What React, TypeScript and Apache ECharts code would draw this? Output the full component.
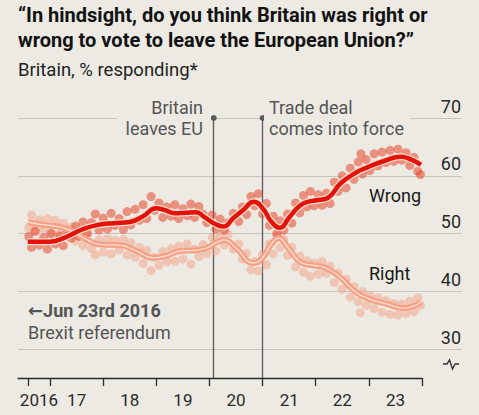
import React, { useEffect, useRef } from "react";
import * as echarts from "echarts";

const titleLines = [
  "“In hindsight, do you think Britain was right or",
  "wrong to vote to leave the European Union?”",
];
const subtitle = "Britain, % responding*";

const yTickValues = [30, 40, 50, 60, 70];
const xTickYears = [2016.585, 2017, 2018, 2019, 2020, 2021, 2022, 2023, 2024];
const xLabelYears = [2016.79, 2017.5, 2018.5, 2019.5, 2020.5, 2021.5, 2022.5, 2023.5];

const eventDates = [2020.083, 2021.0];
const eventLabels = [
  ["Britain", "leaves EU"],
  ["Trade deal", "comes into force"],
];

const wrongTrend: [number, number][] = [
  [2016.58, 48.6], [2016.8, 48.6], [2017.0, 48.6], [2017.3, 49.4], [2017.6, 50.7],
  [2017.9, 51.5], [2018.2, 51.8], [2018.5, 52.0], [2018.75, 53.0], [2019.0, 54.4],
  [2019.15, 54.1], [2019.35, 53.5], [2019.55, 53.6], [2019.75, 53.7], [2019.9, 52.9],
  [2020.08, 51.8], [2020.26, 51.2], [2020.45, 52.7], [2020.65, 54.2], [2020.83, 55.5],
  [2021.0, 54.4], [2021.17, 52.0], [2021.33, 51.0], [2021.5, 52.8], [2021.7, 54.8],
  [2021.85, 55.5], [2022.05, 55.8], [2022.23, 56.2], [2022.47, 58.7], [2022.75, 60.5],
  [2022.98, 61.5], [2023.3, 62.6], [2023.6, 63.3], [2023.8, 62.8], [2023.98, 61.9],
];

const rightTrend: [number, number][] = [
  [2016.58, 52.0], [2016.8, 51.6], [2017.0, 51.4], [2017.25, 51.0], [2017.45, 50.2],
  [2017.7, 48.9], [2017.95, 48.1], [2018.3, 48.0], [2018.6, 47.1], [2018.95, 45.8],
  [2019.2, 46.2], [2019.45, 47.0], [2019.7, 47.1], [2019.95, 47.5], [2020.1, 48.3],
  [2020.28, 48.9], [2020.5, 47.5], [2020.83, 44.9], [2021.0, 45.8], [2021.15, 48.0],
  [2021.3, 49.2], [2021.5, 47.3], [2021.72, 45.0], [2021.95, 44.5], [2022.15, 44.2],
  [2022.45, 42.5], [2022.75, 39.9], [2023.0, 38.7], [2023.35, 37.8], [2023.65, 37.1],
  [2023.85, 37.5], [2023.98, 38.2],
];

const wrongPolls: [number, number][] = [
  [2016.60, 49.5], [2016.65, 47.6], [2016.72, 50.4], [2016.80, 48.0], [2016.88, 49.3],
  [2016.95, 47.3], [2017.02, 50.0], [2017.10, 48.2], [2017.18, 49.6], [2017.25, 47.9],
  [2017.32, 50.6], [2017.40, 49.2], [2017.48, 51.3], [2017.55, 49.5], [2017.62, 52.0],
  [2017.70, 50.1], [2017.78, 51.9], [2017.85, 53.4], [2017.92, 50.6], [2018.00, 52.7],
  [2018.08, 50.8], [2018.15, 53.5], [2018.22, 51.4], [2018.30, 52.6], [2018.38, 50.7],
  [2018.45, 53.8], [2018.52, 51.5], [2018.60, 54.2], [2018.68, 52.3], [2018.75, 55.0],
  [2018.82, 52.6], [2018.90, 56.4], [2018.97, 54.0], [2019.05, 55.3], [2019.12, 52.8],
  [2019.20, 54.6], [2019.28, 53.0], [2019.35, 55.0], [2019.42, 52.6], [2019.50, 54.3],
  [2019.58, 53.1], [2019.65, 55.1], [2019.72, 52.8], [2019.80, 54.7], [2019.88, 53.4],
  [2019.95, 51.9], [2020.05, 53.2], [2020.12, 50.8], [2020.20, 52.5], [2020.28, 50.6],
  [2020.35, 51.9], [2020.45, 53.5], [2020.55, 52.1], [2020.62, 54.6], [2020.70, 53.3],
  [2020.78, 56.4], [2020.85, 54.8], [2020.92, 56.9], [2021.00, 53.4], [2021.07, 55.2],
  [2021.13, 51.4], [2021.20, 53.0], [2021.27, 50.0], [2021.33, 52.2], [2021.40, 50.6],
  [2021.47, 53.4], [2021.55, 51.8], [2021.62, 55.3], [2021.70, 53.6], [2021.77, 56.6],
  [2021.83, 54.6], [2021.90, 57.3], [2021.97, 54.8], [2022.05, 56.7], [2022.12, 54.9],
  [2022.20, 57.0], [2022.27, 55.2], [2022.35, 58.9], [2022.42, 57.3], [2022.50, 60.0],
  [2022.57, 57.9], [2022.65, 61.3], [2022.72, 59.4], [2022.80, 62.4], [2022.85, 63.8],
  [2022.88, 60.3], [2022.95, 62.8], [2023.02, 60.9], [2023.10, 63.8], [2023.17, 61.7],
  [2023.25, 64.1], [2023.32, 62.3], [2023.40, 64.4], [2023.47, 62.5], [2023.55, 64.6],
  [2023.62, 62.7], [2023.70, 64.0], [2023.77, 61.8], [2023.85, 63.2], [2023.92, 60.8],
  [2023.97, 60.2],
];

const rightPolls: [number, number][] = [
  [2016.60, 51.0], [2016.65, 53.2], [2016.72, 50.5], [2016.80, 52.4], [2016.88, 50.8],
  [2016.95, 52.6], [2017.02, 50.2], [2017.10, 52.3], [2017.18, 50.0], [2017.25, 51.8],
  [2017.32, 49.6], [2017.40, 51.1], [2017.48, 48.7], [2017.55, 50.6], [2017.62, 47.9],
  [2017.70, 49.8], [2017.78, 47.4], [2017.85, 46.3], [2017.92, 48.9], [2018.00, 46.8],
  [2018.08, 49.1], [2018.15, 46.5], [2018.22, 48.8], [2018.30, 47.2], [2018.38, 49.0],
  [2018.45, 46.3], [2018.52, 48.4], [2018.60, 45.9], [2018.68, 47.6], [2018.75, 44.8],
  [2018.82, 47.1], [2018.90, 43.6], [2018.97, 45.9], [2019.05, 44.5], [2019.12, 46.9],
  [2019.20, 45.1], [2019.28, 47.4], [2019.35, 45.2], [2019.42, 47.8], [2019.50, 45.6],
  [2019.58, 48.2], [2019.65, 44.7], [2019.72, 47.3], [2019.80, 46.0], [2019.88, 48.1],
  [2019.95, 46.5], [2020.05, 49.3], [2020.12, 47.0], [2020.20, 49.6], [2020.28, 48.0],
  [2020.35, 49.9], [2020.45, 47.3], [2020.55, 48.2], [2020.62, 45.6], [2020.70, 46.6],
  [2020.78, 43.7], [2020.85, 45.2], [2020.92, 43.5], [2021.00, 46.4], [2021.07, 44.6],
  [2021.13, 48.2], [2021.20, 46.5], [2021.27, 49.8], [2021.33, 47.6], [2021.40, 49.0],
  [2021.47, 46.2], [2021.55, 47.6], [2021.62, 44.2], [2021.70, 46.1], [2021.77, 43.3],
  [2021.83, 45.3], [2021.90, 42.6], [2021.97, 44.9], [2022.05, 43.0], [2022.12, 45.2],
  [2022.20, 43.1], [2022.27, 44.4], [2022.35, 41.5], [2022.42, 43.2], [2022.50, 40.4],
  [2022.57, 42.1], [2022.65, 39.0], [2022.72, 40.8], [2022.80, 38.2], [2022.84, 36.3],
  [2022.88, 40.0], [2022.95, 37.6], [2023.02, 39.3], [2023.10, 37.0], [2023.17, 38.9],
  [2023.25, 36.4], [2023.32, 38.4], [2023.40, 36.0], [2023.47, 37.9], [2023.55, 35.9],
  [2023.62, 37.8], [2023.70, 36.2], [2023.77, 38.3], [2023.85, 36.5], [2023.92, 38.9],
  [2023.97, 37.6],
];

const BG = "#eceae3";
const FONT = "Roboto, 'DejaVu Sans', sans-serif";

export default function App() {
  const ref = useRef<HTMLDivElement>(null);

  useEffect(() => {
    if (!ref.current) return;
    const chart = echarts.init(ref.current, undefined, { renderer: "svg" });

    const txt = (text: string, x: number, y: number, opts: any = {}) => ({
      type: "text",
      x,
      y,
      z: 100,
      silent: true,
      style: {
        text,
        fill: opts.fill || "#555555",
        fontSize: opts.fontSize || 18,
        fontWeight: opts.fontWeight || "normal",
        fontFamily: FONT,
        align: opts.align || "left",
        verticalAlign: "middle",
      },
    });

    chart.setOption({
      animation: false,
      backgroundColor: BG,
      textStyle: { fontFamily: FONT },
      grid: [
        { left: 18, right: 57, top: 118, bottom: 37 },
        { left: 18, right: 17, top: 118, bottom: 66 },
      ],
      xAxis: [
        {
          type: "value",
          gridIndex: 0,
          min: 2016.396,
          max: 2024,
          axisLine: { show: true, lineStyle: { color: "#2b2b2b", width: 1.3 } },
          axisTick: {
            show: true,
            customValues: xTickYears,
            length: 8,
            lineStyle: { color: "#2b2b2b", width: 1.3 },
          },
          axisLabel: {
            customValues: xLabelYears,
            margin: 13,
            fontSize: 17,
            color: "#2a2a2a",
            fontFamily: FONT,
            formatter: (v: number) => (v < 2017 ? "2016" : String(Math.floor(v) - 2000)),
          },
          splitLine: { show: false },
        },
        { type: "value", gridIndex: 1, min: 0, max: 1, show: false },
      ],
      yAxis: [
        { type: "value", gridIndex: 0, min: 25, max: 70, show: false },
        {
          type: "value",
          gridIndex: 1,
          min: 30,
          max: 70,
          interval: 10,
          position: "right",
          axisLine: { show: false },
          axisTick: { show: false },
          splitLine: { show: true, lineStyle: { color: "#c6c5be", width: 1 } },
          axisLabel: {
            inside: true,
            margin: 1,
            fontSize: 18,
            color: "#2a2a2a",
            fontFamily: FONT,
            verticalAlign: "bottom",
            lineHeight: 24,
          },
        },
      ],
      series: [
        {
          name: "Right polls",
          type: "scatter",
          xAxisIndex: 0,
          yAxisIndex: 0,
          data: rightPolls,
          symbolSize: 9,
          itemStyle: { color: "#f6a68e", opacity: 0.55 },
          silent: true,
          z: 2,
          markLine: {
            silent: true,
            z: 1,
            symbol: ["none", "circle"],
            symbolSize: 6,
            label: { show: false },
            lineStyle: { color: "#5a5a5a", width: 1.3, type: "solid" },
            data: eventDates.map((d) => ({ xAxis: d })),
          },
        },
        {
          name: "Wrong polls",
          type: "scatter",
          xAxisIndex: 0,
          yAxisIndex: 0,
          data: wrongPolls,
          symbolSize: 9,
          itemStyle: { color: "#e8452c", opacity: 0.55 },
          silent: true,
          z: 2,
        },
        {
          name: "Right base",
          type: "line",
          data: rightTrend,
          smooth: true,
          showSymbol: false,
          silent: true,
          lineStyle: { color: "#f4a188", width: 6 },
          z: 3,
        },
        {
          name: "Right",
          type: "line",
          data: rightTrend,
          smooth: true,
          showSymbol: false,
          silent: true,
          lineStyle: { color: "#fde0cf", width: 1.3 },
          z: 3,
        },
        {
          name: "Wrong halo",
          type: "line",
          data: wrongTrend,
          smooth: true,
          showSymbol: false,
          silent: true,
          lineStyle: { color: "#f8dcc9", width: 7 },
          z: 4,
        },
        {
          name: "Wrong",
          type: "line",
          data: wrongTrend,
          smooth: true,
          showSymbol: false,
          silent: true,
          lineStyle: { color: "#e3120b", width: 4.5 },
          z: 4,
        },
      ],
      graphic: [
        { type: "rect", z: 50, silent: true, shape: { x: 117, y: 113, width: 94, height: 10 }, style: { fill: BG } },
        { type: "rect", z: 50, silent: true, shape: { x: 264, y: 113, width: 146, height: 10 }, style: { fill: BG } },
        txt(titleLines[0], 18, 15, { fill: "#121212", fontSize: 20, fontWeight: "bold" }),
        txt(titleLines[1], 18, 40, { fill: "#121212", fontSize: 20, fontWeight: "bold" }),
        txt(subtitle, 18, 70, { fill: "#222222", fontSize: 18.5 }),
        txt(eventLabels[0][0], 203, 107, { align: "right" }),
        txt(eventLabels[0][1], 203, 128, { align: "right" }),
        txt(eventLabels[1][0], 269, 107),
        txt(eventLabels[1][1], 269, 128),
        txt("Wrong", 369, 195, { fill: "#1a1a1a", fontSize: 18 }),
        txt("Right", 369, 273, { fill: "#1a1a1a", fontSize: 18 }),
        txt("←Jun 23rd 2016", 28, 310, { fontWeight: "bold", fontSize: 18 }),
        txt("Brexit referendum", 28, 332, { fontSize: 18 }),
        {
          type: "polyline",
          z: 100,
          silent: true,
          shape: { points: [[443, 364], [447, 364], [449.5, 360], [452.5, 369], [455, 364], [459, 364]] },
          style: { stroke: "#333333", lineWidth: 1.4, fill: null },
        },
      ],
    });

    return () => chart.dispose();
  }, []);

  return (
    <div
      ref={ref}
      style={{ position: "fixed", left: 0, top: 0, width: 479, height: 415, background: BG }}
    />
  );
}
